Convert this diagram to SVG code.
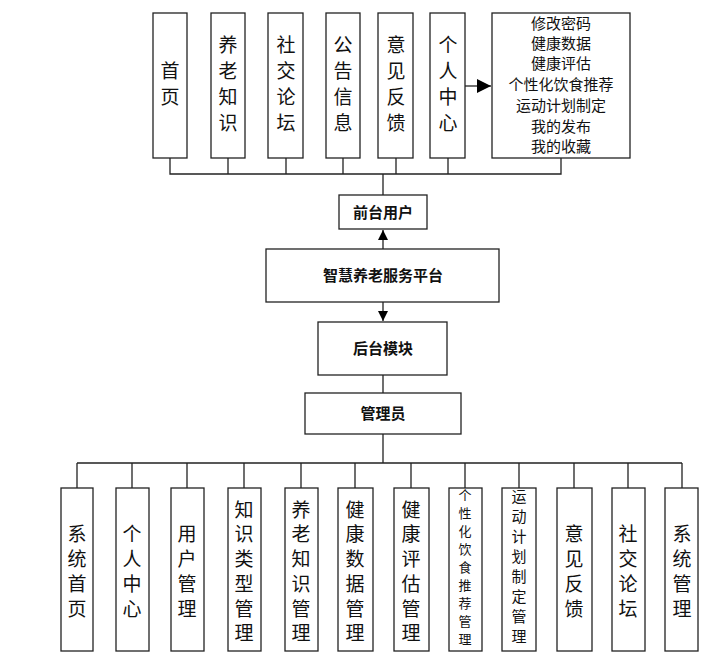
<svg xmlns="http://www.w3.org/2000/svg" width="727" height="662" viewBox="0 0 727 662">
<defs>
<style>
rect{fill:#fff;stroke:#222;stroke-width:1.3}
.c{stroke:#222;stroke-width:1.3;fill:none}
text{font-family:"Noto Sans CJK SC",sans-serif;fill:#111;text-anchor:middle}
.v{font-size:19px}
.s{font-size:15px}
.t{font-size:13px}
.u{font-size:15px}
.b{font-size:15px;font-weight:bold}
</style>
<marker id="a" viewBox="0 0 10 10" refX="10" refY="5" markerWidth="10" markerHeight="10" markerUnits="userSpaceOnUse" orient="auto"><path d="M0,0L10,5L0,10z" fill="#000"/></marker>
<marker id="a2" viewBox="0 0 10 10" refX="10" refY="5" markerWidth="14" markerHeight="14" markerUnits="userSpaceOnUse" orient="auto"><path d="M0,0L10,5L0,10z" fill="#000"/></marker>
</defs>
<g id="connectors">
<path class="c" d="M170,158V174H561V158M228,158V174M286,158V174M343,158V174M396,158V174M448,158V174M383,174V195"/>
<path class="c" d="M465,86H491" marker-end="url(#a2)" stroke-width="2"/>
<path class="c" d="M383,249V230" marker-end="url(#a)"/>
<path class="c" d="M383,302V321" marker-end="url(#a)"/>
<path class="c" d="M383,375V393M383,434V463M77,463H682M77,463V488M132,463V488M187,463V488M244,463V488M301,463V488M355,463V488M411,463V488M465,463V488M519,463V488M574,463V488M628,463V488M682,463V488"/>
</g>
<g id="top">
<rect x="153" y="13" width="34" height="145"/><text class="v" x="170" y="78">首</text><text class="v" x="170" y="104">页</text>
<rect x="211" y="13" width="34" height="145"/><text class="v" x="228" y="52">养</text><text class="v" x="228" y="78">老</text><text class="v" x="228" y="104">知</text><text class="v" x="228" y="130">识</text>
<rect x="268" y="13" width="35" height="145"/><text class="v" x="286" y="52">社</text><text class="v" x="286" y="78">交</text><text class="v" x="286" y="104">论</text><text class="v" x="286" y="130">坛</text>
<rect x="326" y="13" width="34" height="145"/><text class="v" x="343" y="52">公</text><text class="v" x="343" y="78">告</text><text class="v" x="343" y="104">信</text><text class="v" x="343" y="130">息</text>
<rect x="378" y="13" width="35" height="145"/><text class="v" x="396" y="52">意</text><text class="v" x="396" y="78">见</text><text class="v" x="396" y="104">反</text><text class="v" x="396" y="130">馈</text>
<rect x="430" y="13" width="35" height="145"/><text class="v" x="448" y="52">个</text><text class="v" x="448" y="78">人</text><text class="v" x="448" y="104">中</text><text class="v" x="448" y="130">心</text>
<rect x="492" y="13" width="138" height="145"/>
<g class="s"><text x="561" y="29">修改密码</text><text x="561" y="49">健康数据</text><text x="561" y="69">健康评估</text><text x="561" y="90">个性化饮食推荐</text><text x="561" y="111">运动计划制定</text><text x="561" y="132">我的发布</text><text x="561" y="152">我的收藏</text></g>
</g>
<g id="front"><rect x="339" y="195" width="88" height="34"/><text class="b" x="383" y="218">前台用户</text></g>
<g id="platform"><rect x="266" y="249" width="233" height="53"/><text class="b" x="383" y="281">智慧养老服务平台</text></g>
<g id="backend"><rect x="318" y="322" width="129" height="53"/><text class="b" x="383" y="354">后台模块</text></g>
<g id="admin"><rect x="305" y="393" width="156" height="41"/><text class="b" x="383" y="419">管理员</text></g>
<g id="bottom" class="v">
<rect x="61" y="488" width="32" height="163"/><text x="77" y="541">系</text><text x="77" y="566">统</text><text x="77" y="591">首</text><text x="77" y="616">页</text>
<rect x="116" y="488" width="33" height="163"/><text x="132" y="541">个</text><text x="132" y="566">人</text><text x="132" y="591">中</text><text x="132" y="616">心</text>
<rect x="171" y="488" width="33" height="163"/><text x="187" y="541">用</text><text x="187" y="566">户</text><text x="187" y="591">管</text><text x="187" y="616">理</text>
<rect x="228" y="488" width="33" height="163"/><text x="244" y="517">知</text><text x="244" y="541">识</text><text x="244" y="566">类</text><text x="244" y="591">型</text><text x="244" y="616">管</text><text x="244" y="640">理</text>
<rect x="285" y="488" width="33" height="163"/><text x="301" y="517">养</text><text x="301" y="541">老</text><text x="301" y="566">知</text><text x="301" y="591">识</text><text x="301" y="616">管</text><text x="301" y="640">理</text>
<rect x="338" y="488" width="35" height="163"/><text x="355" y="517">健</text><text x="355" y="541">康</text><text x="355" y="566">数</text><text x="355" y="591">据</text><text x="355" y="616">管</text><text x="355" y="640">理</text>
<rect x="394" y="488" width="35" height="163"/><text x="411" y="517">健</text><text x="411" y="541">康</text><text x="411" y="566">评</text><text x="411" y="591">估</text><text x="411" y="616">管</text><text x="411" y="640">理</text>
<rect x="449" y="488" width="33" height="163"/>
<g class="t"><text x="465" y="500">个</text><text x="465" y="518">性</text><text x="465" y="536">化</text><text x="465" y="554">饮</text><text x="465" y="572">食</text><text x="465" y="590">推</text><text x="465" y="608">荐</text><text x="465" y="626">管</text><text x="465" y="644">理</text></g>
<rect x="502" y="488" width="34" height="163"/>
<g class="u"><text x="519" y="502">运</text><text x="519" y="522">动</text><text x="519" y="542">计</text><text x="519" y="562">划</text><text x="519" y="582">制</text><text x="519" y="602">定</text><text x="519" y="622">管</text><text x="519" y="642">理</text></g>
<rect x="557" y="488" width="35" height="163"/><text x="574" y="541">意</text><text x="574" y="566">见</text><text x="574" y="591">反</text><text x="574" y="616">馈</text>
<rect x="612" y="488" width="33" height="163"/><text x="628" y="541">社</text><text x="628" y="566">交</text><text x="628" y="591">论</text><text x="628" y="616">坛</text>
<rect x="665" y="488" width="33" height="163"/><text x="682" y="541">系</text><text x="682" y="566">统</text><text x="682" y="591">管</text><text x="682" y="616">理</text>
</g>
</svg>
